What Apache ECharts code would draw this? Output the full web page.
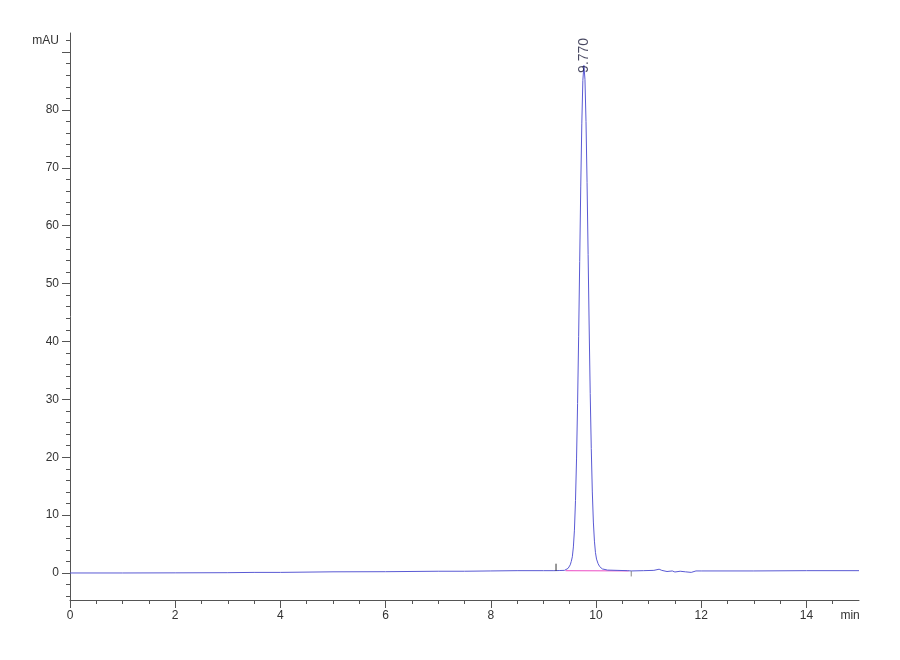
<!DOCTYPE html>
<html>
<head>
<meta charset="utf-8">
<script src="https://cdn.jsdelivr.net/npm/echarts@6/dist/echarts.min.js"></script>
<style>html,body{margin:0;padding:0;background:#fff;}#c{width:900px;height:660px;}</style>
</head>
<body>
<div id="c"></div>
<script>
// Retention time (min) and absorbance (mAU)
const traceTime = [0, 1, 2, 3, 3.5, 4, 5, 6, 7, 7.5, 8, 8.5, 9, 9.2, 9.3, 9.4,
  9.47, 9.51, 9.53, 9.55, 9.57, 9.59, 9.61, 9.63, 9.65, 9.67, 9.69, 9.71, 9.73, 9.75,
  9.77, 9.79, 9.81, 9.83, 9.85, 9.87, 9.89, 9.91, 9.93, 9.95, 9.97, 9.99, 10.01, 10.04, 10.07,
  10.12, 10.22, 10.4, 10.6, 10.67, 10.9, 11.1, 11.2, 11.25, 11.35, 11.45, 11.5, 11.6, 11.7,
  11.81, 11.9, 12, 13, 14, 15];
const traceValue = [0.0, 0.0, 0.02, 0.05, 0.1, 0.1, 0.2, 0.22, 0.3, 0.3, 0.35, 0.4, 0.4, 0.4, 0.42, 0.45,
  0.8, 1.4, 2.0, 2.8, 4.5, 7.4, 12.5, 19.7, 29.3, 40.9, 53.8, 66.7, 77.6, 85.1,
  87.7, 85.3, 78.0, 67.5, 55.0, 42.5, 31.0, 21.5, 14.0, 8.8, 5.5, 3.5, 2.4, 1.6, 1.1,
  0.7, 0.5, 0.45, 0.4, 0.35, 0.4, 0.45, 0.65, 0.45, 0.25, 0.35, 0.17, 0.3, 0.2,
  0.1, 0.35, 0.35, 0.35, 0.4, 0.4];
// integration baseline under the peak
const baselineTime = [9.42, 10.62];
const baselineValue = [0.42, 0.36];
// event markers
const startMarkTime = [9.24, 9.24];
const startMarkValue = [0.35, 1.6];
const endMarkTime = [10.67, 10.67];
const endMarkValue = [0.35, -0.6];
// peak annotation
const peakTime = 9.77;
const peakValue = 87.7;
const peakLabel = '9.770';
// axis ticks / labels
const xLabelValues = [0, 2, 4, 6, 8, 10, 12, 14];
const xMinorTicks = [0.5,1,1.5,2.5,3,3.5,4.5,5,5.5,6.5,7,7.5,8.5,9,9.5,10.5,11,11.5,12.5,13,13.5,14.5];
const yLabelValues = [0, 10, 20, 30, 40, 50, 60, 70, 80];
const yMajorTicks = [0, 10, 20, 30, 40, 50, 60, 70, 80, 90];
const yMinorTicks = [-4,-2,2,4,6,8,12,14,16,18,22,24,26,28,32,34,36,38,42,44,46,48,52,54,56,58,62,64,66,68,72,74,76,78,82,84,86,88,92];
const xUnitPos = 14.83, xUnit = 'min';
const yUnitPos = 92, yUnit = 'mAU';

const zip = (a, b) => a.map((v, i) => [v, b[i]]);
const FONT = 'Liberation Sans';
const AX = '#555';
const yMin = -4.67, yMax = 93.3, xMin = 0, xMax = 15;

const chart = echarts.init(document.getElementById('c'), null, {renderer: 'canvas'});
chart.setOption({
  animation: false,
  backgroundColor: '#fff',
  grid: {left: 70, right: 41, top: 33, bottom: 60},
  xAxis: [{
    type: 'value', min: xMin, max: xMax,
    axisLine: {onZero: false, lineStyle: {color: AX, width: 1}},
    axisTick: {customValues: xLabelValues, length: 8, lineStyle: {color: AX}},
    axisLabel: {customValues: xLabelValues.concat([xUnitPos]), color: '#333', fontFamily: FONT, fontSize: 12, margin: 10,
      formatter: v => (Math.abs(v - xUnitPos) < 1e-6 ? xUnit : String(v))},
    splitLine: {show: false}
  }, {
    type: 'value', min: xMin, max: xMax, position: 'bottom',
    axisLine: {show: false, onZero: false},
    axisTick: {customValues: xMinorTicks, length: 4, lineStyle: {color: AX}},
    axisLabel: {show: false}, splitLine: {show: false}
  }],
  yAxis: [{
    type: 'value', min: yMin, max: yMax,
    axisLine: {show: true, lineStyle: {color: AX, width: 1}},
    axisTick: {show: true, customValues: yMajorTicks, length: 8, lineStyle: {color: AX}},
    axisLabel: {customValues: yLabelValues.concat([yUnitPos]), color: '#333', fontFamily: FONT, fontSize: 12, margin: 11,
      formatter: v => (v === yUnitPos ? yUnit : String(v))},
    splitLine: {show: false}
  }, {
    type: 'value', min: yMin, max: yMax, position: 'left',
    axisLine: {show: false},
    axisTick: {show: true, customValues: yMinorTicks, length: 4, lineStyle: {color: AX}},
    axisLabel: {show: false}, splitLine: {show: false}
  }],
  series: [{
    type: 'line', data: zip(baselineTime, baselineValue), showSymbol: false,
    lineStyle: {color: '#f070d0', width: 1.2}, z: 2
  }, {
    type: 'line', data: zip(traceTime, traceValue), showSymbol: false,
    lineStyle: {color: '#5a5ad4', width: 1}, z: 3
  }, {
    type: 'line', data: zip(startMarkTime, startMarkValue), showSymbol: false,
    lineStyle: {color: '#333', width: 1}, z: 4
  }, {
    type: 'line', data: zip(endMarkTime, endMarkValue), showSymbol: false,
    lineStyle: {color: '#888', width: 1}, z: 4
  }, {
    type: 'scatter', data: [[peakTime, peakValue]], symbolSize: 1,
    itemStyle: {color: 'rgba(0,0,0,0)'}, z: 5,
    label: {show: true, formatter: peakLabel, position: 'top', distance: -8, rotate: 90,
      align: 'left', verticalAlign: 'middle', color: '#1a1a3a', fontFamily: FONT, fontSize: 14}
  }]
});
</script>
</body>
</html>
